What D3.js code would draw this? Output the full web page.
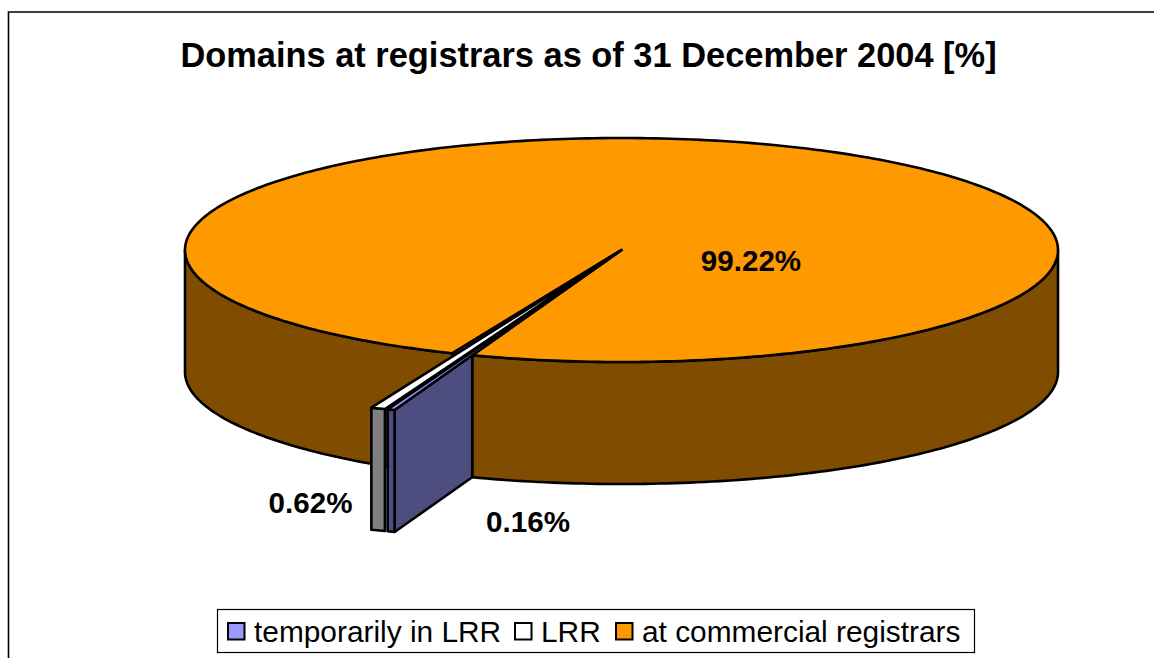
<!DOCTYPE html>
<html>
<head>
<meta charset="utf-8">
<script src="https://cdn.jsdelivr.net/npm/d3@7"></script>
<style>
  html, body { margin: 0; background: #fff; }
  svg { display: block; font-family: "Liberation Sans", Arial, sans-serif; }
</style>
</head>
<body>
<svg id="chart" width="1154" height="658"></svg>
<script>
const categories = ["temporarily in LRR", "LRR", "at commercial registrars"];
const values = [0.16, 0.62, 99.22];
const valueLabels = ["0.16%", "0.62%", "99.22%"];
const topColors = ["#9999ff", "#ffffff", "#ff9900"];
const sideColors = ["#4d4d80", "#808080", "#804d00"];
const titleText = "Domains at registrars as of 31 December 2004 [%]";

const width = 1154;
const height = 658;
const depth = 122;
const explode = 1.52; // how far the two slivers are pulled out of the pie
const deg = Math.PI / 180;
const lineW = 2.6;

const svg = d3.select("#chart").attr("viewBox", [0, 0, width, height]);

// unit circle -> the flattened ellipse of the pie top
const x = d3.scaleLinear([-1, 1], [185, 1058]);
const y = d3.scaleLinear([-1, 1], [138, 362]);
const line = d3.line();
const pt = (a, r, drop = 0) => [x(r * Math.sin(a)), y(-r * Math.cos(a)) + drop];
const rim = (a0, a1, r, drop = 0) => {
  let n = Math.max(2, Math.ceil(Math.abs(a1 - a0) / deg));
  return d3.range(n + 1).map(i => pt(a0 + (a1 - a0) * i / n, r, drop));
};
const poly = (points, fill) => svg.append("path")
  .attr("d", line(points) + "Z")
  .attr("fill", fill)
  .attr("stroke", "#000")
  .attr("stroke-width", lineW)
  .attr("stroke-linejoin", "round");

const arcs = d3.pie().sort(null).startAngle(200 * deg).endAngle(560 * deg)(values);
const main = arcs[2];

// the slivers come out narrower than their true angle in the reference
const sliverAngle = d3.scaleSqrt([0, 1], [0, 1.6 * deg]);
const blueStart = arcs[0].startAngle;
const blueEnd = blueStart + sliverAngle(values[0]);
const grayStart = blueEnd + 0.25 * deg;
const grayEnd = grayStart + sliverAngle(values[1]);

// frame
svg.append("path")
  .attr("d", `M8.5 ${height}V12H${width}`)
  .attr("fill", "none")
  .attr("stroke", "#000")
  .attr("stroke-width", 1.6);

// side walls of the big slice, left and right of the cut
const wall = (a0, a1) => poly([...rim(a0, a1, 1), ...rim(a1, a0, 1, depth)], sideColors[2]);
wall(main.startAngle, 270 * deg);
wall(90 * deg, 200 * deg);

// top of the big slice
const apex = [x(0), y(0)];
poly([apex, ...rim(main.startAngle, main.endAngle, 1)], topColors[2]);

// the slit seen through the cut
poly([apex, pt(main.startAngle, 1), pt(main.endAngle, 1)], sideColors[2]);

// LRR sliver
poly([pt(grayEnd, explode), pt(grayStart, explode), pt(grayStart, explode, depth), pt(grayEnd, explode, depth)], sideColors[1]);
poly([apex, pt(grayEnd, explode), pt(grayStart, explode)], topColors[1]);

// temporarily in LRR sliver: cut face, front, top
poly([pt(blueStart, 1), pt(blueStart, explode), pt(blueStart, explode, depth), pt(blueStart, 1, depth)], sideColors[0]);
poly([pt(blueEnd, explode), pt(blueStart, explode), pt(blueStart, explode, depth), pt(blueEnd, explode, depth)], sideColors[0]);
poly([apex, pt(blueEnd, explode), pt(blueStart, explode)], topColors[0]);

// title
svg.append("text")
  .attr("x", 588.5).attr("y", 67)
  .attr("text-anchor", "middle")
  .attr("font-size", 34.4)
  .attr("font-weight", "bold")
  .text(titleText);

// value labels
const labelPos = [[528, 532], [310.5, 513], [751, 271]];
svg.selectAll("text.value")
  .data(valueLabels)
  .join("text")
  .attr("class", "value")
  .attr("x", (d, i) => labelPos[i][0])
  .attr("y", (d, i) => labelPos[i][1])
  .attr("text-anchor", "middle")
  .attr("font-size", 29.6)
  .attr("font-weight", "bold")
  .text(d => d);

// legend
svg.append("rect")
  .attr("x", 217.5).attr("y", 609.5)
  .attr("width", 757).attr("height", 43)
  .attr("fill", "#fff")
  .attr("stroke", "#000")
  .attr("stroke-width", 1.2);

const legendSwatchX = [228, 515, 616];
const legendTextX = [254, 541, 642];
const legend = svg.selectAll("g.legend")
  .data(categories)
  .join("g")
  .attr("class", "legend");
legend.append("rect")
  .attr("x", (d, i) => legendSwatchX[i])
  .attr("y", 623)
  .attr("width", 16.5).attr("height", 16.5)
  .attr("fill", (d, i) => topColors[i])
  .attr("stroke", "#000")
  .attr("stroke-width", 2);
legend.append("text")
  .attr("x", (d, i) => legendTextX[i])
  .attr("y", 642)
  .attr("font-size", 29.85)
  .text(d => d);
</script>
</body>
</html>
